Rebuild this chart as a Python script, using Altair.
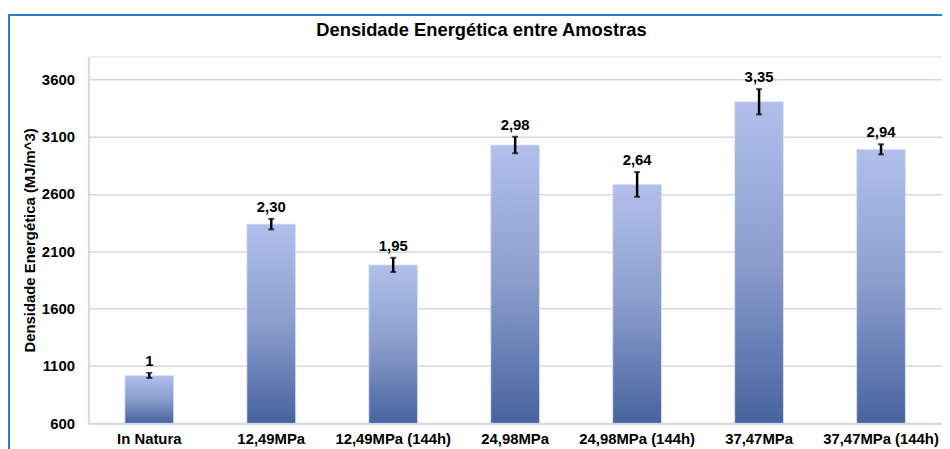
import altair as alt
import pandas as pd

categories = ["In Natura", "12,49MPa", "12,49MPa (144h)", "24,98MPa",
              "24,98MPa (144h)", "37,47MPa", "37,47MPa (144h)"]
values = [1018, 2338, 1982, 3028, 2684, 3405, 2990]
errors = [22, 46, 62, 72, 108, 110, 44]
labels = ["1", "2,30", "1,95", "2,98", "2,64", "3,35", "2,94"]
y_ticks = [600, 1100, 1600, 2100, 2600, 3100, 3600]
y_min, y_max = 600, 3800

df = pd.DataFrame({"cat": categories, "val": values, "err": errors, "lab": labels})
df["lo"] = df["val"] - df["err"]
df["hi"] = df["val"] + df["err"]

FONT = "Liberation Sans"
W, H = 861, 370

xenc = alt.X("cat:N", sort=categories, title=None,
             scale=alt.Scale(paddingInner=0.6, paddingOuter=0.3),
             axis=alt.Axis(labelAngle=0, labelFont=FONT, labelFontSize=15,
                           labelFontWeight="bold", labelColor="#000000",
                           labelPadding=8, ticks=False, domain=True,
                           domainColor="#d5d8e2", domainWidth=2,
                           labelOverlap=False, labelLimit=300))
yscale = alt.Scale(domain=[y_min, y_max], nice=False, zero=False)

bars = alt.Chart(df).mark_bar(
    color=alt.Gradient(gradient="linear", x1=0, y1=0, x2=0, y2=1,
                       stops=[alt.GradientStop(color="#b1c0ea", offset=0),
                              alt.GradientStop(color="#8b9dcd", offset=0.5),
                              alt.GradientStop(color="#46639e", offset=1)]),
    stroke="#dfe4f2", strokeWidth=0.8
).encode(
    x=xenc,
    y=alt.Y("val:Q", scale=yscale,
            title="Densidade Energética (MJ/m^3)",
            axis=alt.Axis(values=y_ticks, format="d", labelFont=FONT, labelFontSize=15,
                          labelFontWeight="bold", labelColor="#000000",
                          labelPadding=14, ticks=False, grid=True,
                          gridColor="#d5d8e2", gridWidth=1.5,
                          domainColor="#d5d8e2", domainWidth=2,
                          titleFont=FONT, titleFontSize=15, titleFontWeight="bold",
                          titleColor="#000000", titleX=-59, titleBaseline="middle")),
    y2=alt.datum(y_min)
)

err_rule = alt.Chart(df).mark_rule(color="#000000", strokeWidth=2.5).encode(
    x=alt.X("cat:N", sort=categories), y=alt.Y("lo:Q", scale=yscale), y2="hi:Q")
cap_lo = alt.Chart(df).mark_tick(color="#000000", thickness=2, size=6).encode(
    x=alt.X("cat:N", sort=categories), y=alt.Y("lo:Q", scale=yscale))
cap_hi = alt.Chart(df).mark_tick(color="#000000", thickness=2, size=6).encode(
    x=alt.X("cat:N", sort=categories), y=alt.Y("hi:Q", scale=yscale))

text = alt.Chart(df).mark_text(font=FONT, fontSize=15, fontWeight="bold",
                               color="#000000", baseline="middle", dy=-12).encode(
    x=alt.X("cat:N", sort=categories), y=alt.Y("hi:Q", scale=yscale), text="lab:N")

frame_left = alt.Chart(df).mark_rule(color="#2a7bd0", strokeWidth=1.5, clip=False).encode(
    x=alt.value(-80), y=alt.value(-42), y2=alt.value(H + 40))
frame_top = alt.Chart(df).mark_rule(color="#2a7bd0", strokeWidth=1.5, clip=False).encode(
    x=alt.value(-80), x2=alt.value(W + 20), y=alt.value(-42))

chart = alt.layer(bars, err_rule, cap_lo, cap_hi, text, frame_left, frame_top).properties(
    width=W, height=H,
    title=alt.TitleParams("Densidade Energética entre Amostras", font=FONT,
                          fontSize=18.5, fontWeight="bold", color="#000000",
                          anchor="middle", dx=-34, offset=-26),
    autosize=alt.AutoSizeParams(type="none"),
    padding={"left": 81, "top": 47, "right": 0, "bottom": 24},
).configure_view(stroke=None).configure(background="#ffffff")

chart.save("out.html", embed_options={"renderer": "svg", "actions": False})
